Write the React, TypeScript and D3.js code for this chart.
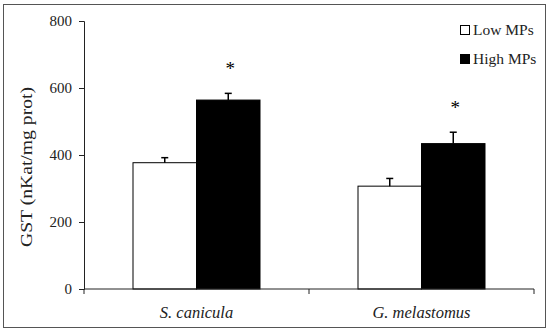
import React, { useEffect, useRef } from 'react';
import * as d3 from 'd3';

// species on the x axis
const species = ['S. canicula', 'G. melastomus'];
const groups = ['Low MPs', 'High MPs'];
// GST activity, mean and error (nKat/mg prot)
const lowMeans = [377, 307];
const lowErr = [15, 23];
const highMeans = [564, 434];
const highErr = [20, 34];
const significant = [true, true];
const yTicks = [0, 200, 400, 600, 800];

const FONT = '"Liberation Serif", "DejaVu Serif", serif';

const App = () => {
  const ref = useRef<SVGSVGElement>(null);

  useEffect(() => {
    const svg = d3.select(ref.current);
    svg.selectAll('*').remove();

    const W = 550, H = 332;
    const margin = { top: 21, right: 16, bottom: 43, left: 84 };
    const width = 534 - margin.left;
    const height = 289 - margin.top;

    // outer frame
    svg.append('rect')
      .attr('x', 3.5).attr('y', 4.5)
      .attr('width', W - 8).attr('height', H - 9)
      .attr('fill', 'white')
      .attr('stroke', '#555')
      .attr('stroke-width', 1);

    const g = svg.append('g').attr('transform', `translate(${margin.left},${margin.top})`);

    const x = d3.scaleBand().domain(species).range([0, width]);
    const sub = d3.scaleBand().domain(groups).range([49, x.bandwidth() - 49]);
    const y = d3.scaleLinear().domain([0, 800]).range([height, 0]);

    // bars
    const rows = species.map((s, i) => [
      { s, grp: groups[0], v: lowMeans[i], e: lowErr[i], fill: 'white' },
      { s, grp: groups[1], v: highMeans[i], e: highErr[i], fill: 'black' },
    ]).flat();

    const bars = g.append('g');
    rows.forEach(d => {
      const bx = x(d.s)! + sub(d.grp)!;
      bars.append('rect')
        .attr('x', bx).attr('y', y(d.v))
        .attr('width', sub.bandwidth()).attr('height', height - y(d.v))
        .attr('fill', d.fill)
        .attr('stroke', 'black').attr('stroke-width', 1);
      const cx = bx + sub.bandwidth() / 2;
      bars.append('line')
        .attr('x1', cx).attr('x2', cx)
        .attr('y1', y(d.v)).attr('y2', y(d.v + d.e))
        .attr('stroke', 'black').attr('stroke-width', 1.5);
      bars.append('line')
        .attr('x1', cx - 3.5).attr('x2', cx + 3.5)
        .attr('y1', y(d.v + d.e)).attr('y2', y(d.v + d.e))
        .attr('stroke', 'black').attr('stroke-width', 1.5);
    });

    // asterisks over high MPs bars
    species.forEach((s, i) => {
      if (!significant[i]) return;
      const cx = x(s)! + sub(groups[1])! + sub.bandwidth() / 2 + 2;
      g.append('text')
        .attr('x', cx).attr('y', y(highMeans[i] + highErr[i]) - 18)
        .attr('text-anchor', 'middle')
        .style('font-family', FONT).style('font-size', '19px')
        .text('*');
    });

    // y axis
    const yAxis = g.append('g')
      .call(d3.axisLeft(y).tickValues(yTicks).tickSize(5).tickPadding(7));
    yAxis.select('.domain').attr('stroke', '#222');
    yAxis.selectAll('.tick line').attr('stroke', '#222');
    yAxis.selectAll('text')
      .style('font-family', FONT).style('font-size', '15px').attr('fill', '#222');

    // x axis: ticks at category boundaries
    const xAxisG = g.append('g').attr('transform', `translate(0,${height})`);
    xAxisG.append('line').attr('x1', 0).attr('x2', width).attr('y1', 0).attr('y2', 0).attr('stroke', '#222');
    [0, x.bandwidth(), width].forEach(t => {
      xAxisG.append('line').attr('x1', t).attr('x2', t).attr('y1', 0).attr('y2', 5).attr('stroke', '#222');
    });
    species.forEach(s => {
      xAxisG.append('text')
        .attr('x', x(s)! + x.bandwidth() / 2).attr('y', 29)
        .attr('text-anchor', 'middle')
        .style('font-family', FONT).style('font-size', '16.5px').style('font-style', 'italic')
        .attr('fill', '#222')
        .text(s);
    });

    // y label
    g.append('text')
      .attr('transform', `translate(${-52},${height / 2 + 12}) rotate(-90)`)
      .attr('text-anchor', 'middle')
      .attr('textLength', 160).attr('lengthAdjust', 'spacingAndGlyphs')
      .style('font-family', FONT).style('font-size', '16px')
      .attr('fill', '#222')
      .text('GST (nKat/mg prot)');

    // legend
    const legend = svg.append('g').attr('transform', 'translate(460,25)');
    groups.forEach((grp, i) => {
      const row = legend.append('g').attr('transform', `translate(0,${i * 29})`);
      row.append('rect').attr('x', 0.5).attr('y', 0.5).attr('width', 9).attr('height', 9)
        .attr('fill', i === 0 ? 'white' : 'black').attr('stroke', 'black');
      row.append('text').attr('x', 13).attr('y', 10)
        .style('font-family', FONT).style('font-size', '15.5px').attr('fill', '#222')
        .text(grp);
    });
  }, []);

  return (
    <svg ref={ref} width={550} height={332}
      style={{ position: 'absolute', left: 0, top: 0, background: 'white' }} />
  );
};

export default App;
